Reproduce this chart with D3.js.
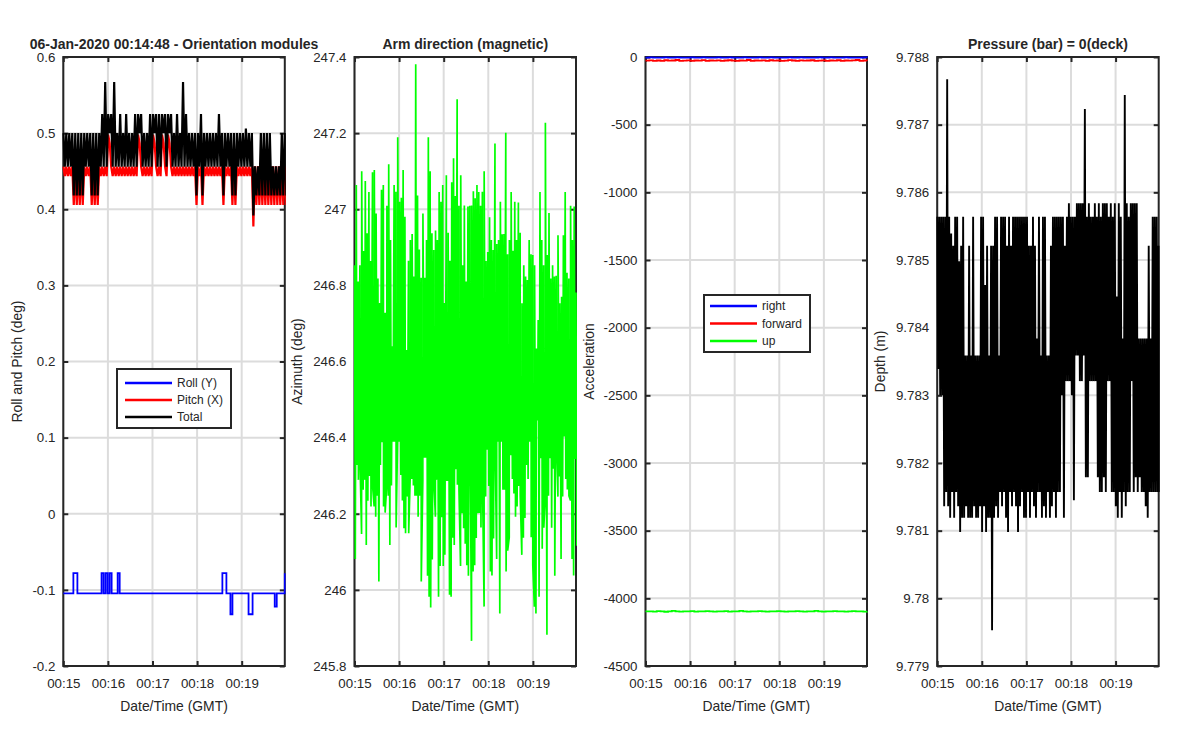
<!DOCTYPE html>
<html><head><meta charset="utf-8">
<script src="https://cdn.jsdelivr.net/npm/d3@7"></script>
<style>
body{margin:0;background:#fff;}
text{font-family:"Liberation Sans",Arial,Helvetica,sans-serif;fill:#262626;}
</style>
</head><body>
<svg id="chart" width="1200" height="750"></svg>
<script>
// ---------------- DATA ----------------
const startTime = "2020-01-06 00:15:00";
const endTime   = "2020-01-06 00:19:58";
const xTickLabels = ["00:15","00:16","00:17","00:18","00:19"];

// Panel 1 : Orientation modules
const rollTicks = [-0.2,-0.1,0,0.1,0.2,0.3,0.4,0.5,0.6];
const rollTickLabels = ["-0.2","-0.1","0","0.1","0.2","0.3","0.4","0.5","0.6"];
const rollY = [
-0.1045,-0.1045,-0.1045,-0.1045,-0.1045,-0.078,-0.078,-0.1045,-0.1045,-0.1045,
-0.1045,-0.1045,-0.1045,-0.1045,-0.1045,-0.1045,-0.1045,-0.1045,-0.1045,-0.078,
-0.1045,-0.078,-0.1045,-0.078,-0.1045,-0.1045,-0.1045,-0.078,-0.1045,-0.1045,
-0.1045,-0.1045,-0.1045,-0.1045,-0.1045,-0.1045,-0.1045,-0.1045,-0.1045,-0.1045,
-0.1045,-0.1045,-0.1045,-0.1045,-0.1045,-0.1045,-0.1045,-0.1045,-0.1045,-0.1045,
-0.1045,-0.1045,-0.1045,-0.1045,-0.1045,-0.1045,-0.1045,-0.1045,-0.1045,-0.1045,
-0.1045,-0.1045,-0.1045,-0.1045,-0.1045,-0.1045,-0.1045,-0.1045,-0.1045,-0.1045,
-0.1045,-0.1045,-0.1045,-0.1045,-0.1045,-0.1045,-0.1045,-0.1045,-0.1045,-0.078,
-0.078,-0.1045,-0.1045,-0.132,-0.1045,-0.1045,-0.1045,-0.1045,-0.1045,-0.1045,
-0.1045,-0.1045,-0.132,-0.132,-0.1045,-0.1045,-0.1045,-0.1045,-0.1045,-0.1045,
-0.1045,-0.1045,-0.1045,-0.1045,-0.1045,-0.122,-0.1045,-0.1045,-0.1045,-0.1045,
-0.078];
// pitch and total: successive readings (upper / lower value of each sample pair)
const pitchHigh = [
.456,.456,.456,.456,.456,.456,.456,.456,.456,.456,
.456,.456,.456,.456,.456,.498,.456,.456,.456,.456,
.456,.456,.456,.456,.456,.498,.456,.456,.456,.456,
.498,.456,.456,.498,.456,.498,.456,.456,.456,.456,
.456,.456,.456,.456,.456,.456,.456,.456,.456,.456,
.456,.456,.456,.456,.456,.456,.456,.456,.456,.456,
.456,.456,.456,.456,.4565,.4565,.456,.456,.456,.456,
.4565,.4565,.4565,.456,.456];
const pitchLow = [
.4435,.4435,.4435,.4057,.4057,.4057,.4057,.4435,.4435,.4057,
.4057,.4057,.4435,.4435,.4435,.487,.4435,.4435,.4435,.4435,
.4435,.4435,.4435,.4435,.4435,.487,.4435,.4435,.4435,.4435,
.487,.4435,.4435,.487,.4435,.487,.4435,.4435,.4435,.4435,
.4435,.4435,.4435,.4435,.4057,.4435,.4057,.4435,.4435,.4435,
.4435,.4435,.4435,.4057,.4435,.4435,.4057,.4057,.4435,.4435,
.4435,.4435,.4435,.3774,.4057,.4057,.4057,.4057,.4057,.4057,
.4057,.4057,.4057,.4057,.4057];
const totalHigh = [
.5,.5,.5,.5,.5,.5,.5,.5,.5,.5,
.5,.5,.5,.525,.567,.525,.525,.567,.5,.525,
.5,.525,.5,.5,.525,.525,.525,.5,.5,.525,
.525,.525,.525,.525,.525,.525,.525,.5,.525,.5,
.567,.525,.5,.5,.5,.5,.525,.5,.5,.5,
.5,.5,.525,.5,.5,.5,.5,.5,.5,.5,
.5,.506,.5,.5,.4565,.4565,.5,.5,.5,.5,
.4565,.4565,.4565,.5,.5];
const totalLow = [
.456,.456,.456,.418,.418,.418,.418,.456,.456,.418,
.418,.418,.456,.456,.456,.5,.456,.456,.456,.456,
.456,.456,.456,.456,.456,.5,.456,.456,.456,.456,
.5,.456,.456,.5,.456,.5,.456,.456,.456,.456,
.456,.456,.456,.456,.418,.456,.418,.456,.456,.456,
.456,.456,.456,.418,.456,.456,.418,.418,.456,.456,
.456,.456,.456,.3917,.418,.418,.418,.418,.418,.418,
.418,.418,.418,.418,.418];
const orientationSeries = ["Roll (Y)","Pitch (X)","Total"];

// Panel 2 : Arm direction (magnetic)
const azTicks = [245.8,246,246.2,246.4,246.6,246.8,247,247.2,247.4];
const azTickLabels = ["245.8","246","246.2","246.4","246.6","246.8","247","247.2","247.4"];
const azimuthHigh = [
246.853,247.064,246.810,246.853,247.100,246.890,247.074,246.937,247.045,246.864,
247.097,247.103,246.989,246.818,246.754,247.051,247.064,246.728,247.009,247.118,
246.919,246.640,247.064,247.046,247.189,247.020,247.030,247.103,246.980,246.630,
246.865,246.919,246.935,246.823,247.381,247.036,246.894,246.820,246.989,246.820,
246.919,247.189,247.100,246.937,246.893,246.944,246.919,247.045,247.020,247.064,
246.754,247.089,246.938,246.865,247.071,247.134,247.035,247.289,247.009,247.089,
246.853,247.010,246.810,247.007,247.009,247.010,247.047,247.029,247.064,247.045,
247.009,247.046,247.100,246.864,246.888,246.979,246.919,246.893,247.173,246.909,
246.919,247.020,246.934,246.935,247.201,246.882,246.919,247.045,246.891,247.020,
246.919,247.018,246.938,246.753,246.853,246.823,246.814,246.919,246.882,246.880,
246.853,246.634,246.709,247.045,246.919,246.853,247.227,246.880,246.990,246.818,
246.853,246.823,246.825,246.932,246.753,246.770,246.932,247.045,246.833,246.818,
247.009,246.919,247.007,246.781];
const azimuthLow = [
246.081,246.328,246.289,246.343,246.147,246.263,246.289,246.118,246.234,246.299,
246.219,246.273,246.219,246.192,246.247,246.022,246.328,246.388,246.219,246.203,
246.273,246.247,246.118,246.274,246.389,246.389,246.164,246.410,246.389,246.302,
246.235,246.162,246.149,246.245,246.149,246.302,246.291,246.274,246.247,246.247,
246.192,246.247,246.022,246.289,246.347,246.347,246.037,245.982,245.954,246.080,
246.289,246.192,246.289,245.982,246.063,246.191,246.063,246.092,246.289,246.291,
245.987,245.982,246.137,246.118,246.317,246.276,246.263,246.063,246.201,246.162,
246.121,246.065,246.037,246.454,245.866,246.048,246.065,246.136,246.201,246.202,
246.164,246.273,245.956,246.245,246.368,246.273,246.048,246.038,246.135,246.389,
246.081,246.389,245.938,246.389,246.263,246.263,246.048,246.103,246.138,246.354,
246.291,246.253,246.192,246.219,246.273,246.247,246.092,246.137,246.189,246.328,
246.291,246.389,246.138,246.065,245.956,245.938,246.445,245.982,246.346,246.108,
246.163,246.247,245.882,246.247,246.346,246.163,246.318,246.037,246.400,246.245,
246.298,246.081,246.245,246.403,246.291,246.264,246.247,246.235,246.081,246.038,
246.344,246.116];

// Panel 3 : Acceleration
const accTicks = [-4500,-4000,-3500,-3000,-2500,-2000,-1500,-1000,-500,0];
const accTickLabels = ["-4500","-4000","-3500","-3000","-2500","-2000","-1500","-1000","-500","0"];
const accSeries = ["right","forward","up"];
const accRight = [
-4,-3,-5,-4,-4,-3,-5,-4,-3,-4,-4,-5,-3,-4,-4,-3,-4,-5,-4,-3,
-4,-4,-3,-5,-4,-4,-3,-4,-4,-5,-3,-4,-4,-3,-4,-4,-5,-4,-3,-4,
-4,-3,-4,-5,-4,-4,-3,-4,-4,-3,-5,-4,-4,-3,-4,-4,-5,-4,-3,-4];
const accForward = [
-27,-25,-28,-26,-29,-24,-27,-26,-22,-28,-27,-25,-29,-26,-27,-23,-28,-26,-27,-25,
-28,-26,-24,-27,-29,-26,-27,-22,-28,-26,-27,-25,-28,-24,-27,-26,-29,-27,-23,-26,
-28,-25,-27,-26,-24,-28,-27,-25,-29,-26,-27,-24,-28,-26,-27,-25,-22,-28,-26,-27];
const accUp = [
-4097,-4096,-4098,-4095,-4097,-4099,-4096,-4093,-4097,-4098,-4096,-4097,-4095,-4098,-4097,-4096,-4094,-4097,-4098,-4096,
-4097,-4095,-4098,-4097,-4096,-4093,-4097,-4098,-4096,-4097,-4095,-4097,-4098,-4096,-4097,-4094,-4097,-4098,-4096,-4097,
-4095,-4097,-4098,-4096,-4097,-4093,-4097,-4098,-4096,-4097,-4095,-4097,-4096,-4098,-4097,-4094,-4097,-4096,-4098,-4097];

// Panel 4 : Pressure / depth
const depthTicks = [9.779,9.78,9.781,9.782,9.783,9.784,9.785,9.786,9.787,9.788];
const depthTickLabels = ["9.779","9.78","9.781","9.782","9.783","9.784","9.785","9.786","9.787","9.788"];
const depthHigh = [
9.78564,9.78564,9.78564,9.78564,9.78564,9.78767,9.78564,9.78539,9.78521,9.78564,
9.78564,9.78498,9.78521,9.78564,9.78359,9.78359,9.78521,9.78359,9.78564,9.78359,
9.78359,9.78359,9.78564,9.78564,9.78463,9.78521,9.78359,9.78521,9.78521,9.78564,
9.78564,9.78359,9.78564,9.78564,9.78564,9.78521,9.78564,9.78521,9.78564,9.78564,
9.78564,9.78564,9.78564,9.78564,9.78564,9.78564,9.78521,9.78521,9.78564,9.78521,
9.78384,9.78564,9.78359,9.78564,9.78564,9.78359,9.78359,9.78521,9.78564,9.78564,
9.78564,9.78564,9.78564,9.78564,9.78521,9.78564,9.78584,9.78564,9.78564,9.78564,
9.78584,9.78584,9.78584,9.78584,9.78723,9.78564,9.78584,9.78564,9.78564,9.78584,
9.78564,9.78584,9.78564,9.78584,9.78584,9.78584,9.78564,9.78584,9.78564,9.78584,
9.78446,9.78584,9.78564,9.78384,9.78744,9.78584,9.78564,9.78584,9.78584,9.78584,
9.78584,9.78384,9.78384,9.78384,9.78384,9.78384,9.78521,9.78384,9.78564,9.78564,
9.78564,9.78521];
const depthLow = [
9.78339,9.783,9.783,9.78136,9.78157,9.78136,9.78119,9.78157,9.78119,9.78157,
9.78136,9.78098,9.78119,9.78119,9.78136,9.78119,9.78119,9.78119,9.78136,9.78119,
9.78119,9.78136,9.78098,9.78136,9.78098,9.78119,9.78119,9.77953,9.78119,9.78136,
9.78119,9.78157,9.78136,9.78157,9.78119,9.78098,9.78157,9.78136,9.78157,9.78136,
9.78098,9.78136,9.78157,9.78119,9.78119,9.78157,9.78119,9.78157,9.78136,9.78119,
9.78157,9.78157,9.78119,9.78136,9.78119,9.78157,9.78119,9.78136,9.78157,9.78119,
9.78157,9.78157,9.783,9.78119,9.78321,9.78321,9.78321,9.783,9.78145,9.78359,
9.78359,9.78321,9.78321,9.78359,9.78179,9.78179,9.78321,9.78321,9.78321,9.78321,
9.78179,9.78157,9.78157,9.78179,9.78157,9.78321,9.78321,9.78157,9.78157,9.78136,
9.78119,9.78157,9.78119,9.78157,9.78136,9.78157,9.78157,9.78321,9.78157,9.78179,
9.78157,9.78179,9.78157,9.78157,9.78136,9.78119,9.78157,9.78157,9.78157,9.78157,
9.78157,9.78157];

const titles = ["06-Jan-2020 00:14:48 - Orientation modules","Arm direction (magnetic)","","Pressure (bar) = 0(deck)"];
const yLabels = ["Roll and Pitch (deg)","Azimuth (deg)","Acceleration","Depth (m)"];
const xLabel = "Date/Time (GMT)";

// ---------------- LAYOUT ----------------
const svg = d3.select("#chart");
const panelLefts = [63.3, 354.5, 645.5, 937.2];
const plotW = 221.5, TOP = 57, BOT = 666;
const yLabelX = [17, 297, 589, 880];
const INK = "#262626", GRID = "#dcdcdc";

const parse = d3.utcParse("%Y-%m-%d %H:%M:%S");
const t0 = parse(startTime), t1 = parse(endTime);
const xTickDates = xTickLabels.map(s => parse("2020-01-06 " + s + ":00"));

function samples(vals, half) {
  const n = vals.length, dt = (t1 - t0) / (n - 1);
  return vals.map((v, i) => ({t: new Date(+t0 + i * dt + (half ? dt / 2 : 0)), v}));
}
function zig(hi, lo) {
  return samples(hi, false).concat(samples(lo, true)).sort((a, b) => a.t - b.t);
}

function makePanel(idx, yDomain, yTicks, yTickLabels) {
  const left = panelLefts[idx];
  const x = d3.scaleUtc().domain([t0, t1]).range([left, left + plotW]);
  const y = d3.scaleLinear().domain(yDomain).range([BOT, TOP]);
  const g = svg.append("g");
  // grid
  g.append("g").selectAll("line.v").data(xTickDates).join("line")
    .attr("x1", d => x(d)).attr("x2", d => x(d)).attr("y1", TOP).attr("y2", BOT)
    .attr("stroke", GRID).attr("stroke-width", 2);
  g.append("g").selectAll("line.h").data(yTicks).join("line")
    .attr("x1", left).attr("x2", left + plotW).attr("y1", d => y(d)).attr("y2", d => y(d))
    .attr("stroke", GRID).attr("stroke-width", 2);
  // box
  g.append("rect").attr("x", left).attr("y", TOP).attr("width", plotW).attr("height", BOT - TOP)
    .attr("fill", "none").attr("stroke", INK).attr("stroke-width", 2);
  // axes
  const styleAxis = a => { a.select(".domain").remove();
    a.selectAll(".tick line").attr("stroke", INK).attr("stroke-width", 2);
    a.selectAll("text").attr("fill", INK).attr("font-size", "13.3px")
      .attr("font-family", "'Liberation Sans',Arial,sans-serif"); };
  g.append("g").attr("transform", `translate(0,${BOT})`)
    .call(d3.axisBottom(x).tickValues(xTickDates).tickFormat((d, i) => xTickLabels[i])
      .tickSizeInner(-5).tickSizeOuter(0).tickPadding(13)).call(styleAxis);
  g.append("g").attr("transform", `translate(0,${TOP})`)
    .call(d3.axisTop(x).tickValues(xTickDates).tickFormat("").tickSizeInner(-5).tickSizeOuter(0)).call(styleAxis);
  g.append("g").attr("transform", `translate(${left},0)`)
    .call(d3.axisLeft(y).tickValues(yTicks).tickFormat((d, i) => yTickLabels[i])
      .tickSizeInner(-5).tickSizeOuter(0).tickPadding(8)).call(styleAxis);
  g.append("g").attr("transform", `translate(${left + plotW},0)`)
    .call(d3.axisRight(y).tickValues(yTicks).tickFormat("").tickSizeInner(-5).tickSizeOuter(0)).call(styleAxis);
  // labels
  if (titles[idx]) g.append("text").attr("x", left + plotW / 2).attr("y", 48.5)
    .attr("text-anchor", "middle").attr("font-weight", "bold").attr("font-size", "14px").text(titles[idx]);
  g.append("text").attr("x", left + plotW / 2).attr("y", 711).attr("text-anchor", "middle")
    .attr("font-size", "13.9px").text(xLabel);
  g.append("text").attr("transform", `translate(${yLabelX[idx]},${(TOP + BOT) / 2}) rotate(-90)`)
    .attr("dy", "0.35em").attr("text-anchor", "middle").attr("font-size", "13.9px").text(yLabels[idx]);
  // clip
  const cid = "clip" + idx;
  svg.append("clipPath").attr("id", cid).append("rect")
    .attr("x", left - 1).attr("y", TOP - 1).attr("width", plotW + 2).attr("height", BOT - TOP + 2);
  const data = g.append("g").attr("clip-path", `url(#${cid})`);
  const draw = (pts, color, w, curve) => data.append("path").datum(pts)
    .attr("d", d3.line().x(d => x(d.t)).y(d => y(d.v)).curve(curve || d3.curveLinear))
    .attr("fill", "none").attr("stroke", color).attr("stroke-width", w).attr("stroke-linejoin", "miter");
  return {g, draw};
}

function legend(g, x0, y0, w, h, names, colors, rowYs, lineX0, lineX1, textX) {
  const lg = g.append("g");
  lg.append("rect").attr("x", x0).attr("y", y0).attr("width", w).attr("height", h)
    .attr("fill", "#fff").attr("stroke", INK).attr("stroke-width", 2);
  names.forEach((n, i) => {
    lg.append("line").attr("x1", lineX0).attr("x2", lineX1).attr("y1", rowYs[i]).attr("y2", rowYs[i])
      .attr("stroke", colors[i]).attr("stroke-width", 2.6);
    lg.append("text").attr("x", textX).attr("y", rowYs[i]).attr("dy", "0.36em")
      .attr("font-size", "12px").text(n);
  });
}

// Panel 1
const p1 = makePanel(0, [-0.2, 0.6], rollTicks, rollTickLabels);
p1.draw(samples(rollY, false), "#0000ff", 1.8, d3.curveStepAfter);
p1.draw(zig(pitchHigh, pitchLow), "#ff0000", 2.2);
p1.draw(zig(totalHigh, totalLow), "#000000", 2.2);
legend(p1.g, 117, 369, 114, 59, orientationSeries, ["#0000ff","#ff0000","#000000"], [383, 400, 417], 125, 172, 177);

// Panel 2
const p2 = makePanel(1, [245.8, 247.4], azTicks, azTickLabels);
p2.draw(zig(azimuthHigh, azimuthLow), "#00ff00", 1.7);

// Panel 3
const p3 = makePanel(2, [-4500, 0], accTicks, accTickLabels);
p3.draw(samples(accRight, false), "#0000ff", 1.8, d3.curveStepAfter);
p3.draw(samples(accForward, false), "#ff0000", 1.8, d3.curveStepAfter);
p3.draw(samples(accUp, false), "#00ff00", 1.8, d3.curveStepAfter);
legend(p3.g, 704, 295, 106, 57, accSeries, ["#0000ff","#ff0000","#00ff00"], [306, 323.5, 341], 710, 757, 762);

// Panel 4
const p4 = makePanel(3, [9.779, 9.788], depthTicks, depthTickLabels);
p4.draw(zig(depthHigh, depthLow), "#000000", 1.9);
</script>
</body></html>
